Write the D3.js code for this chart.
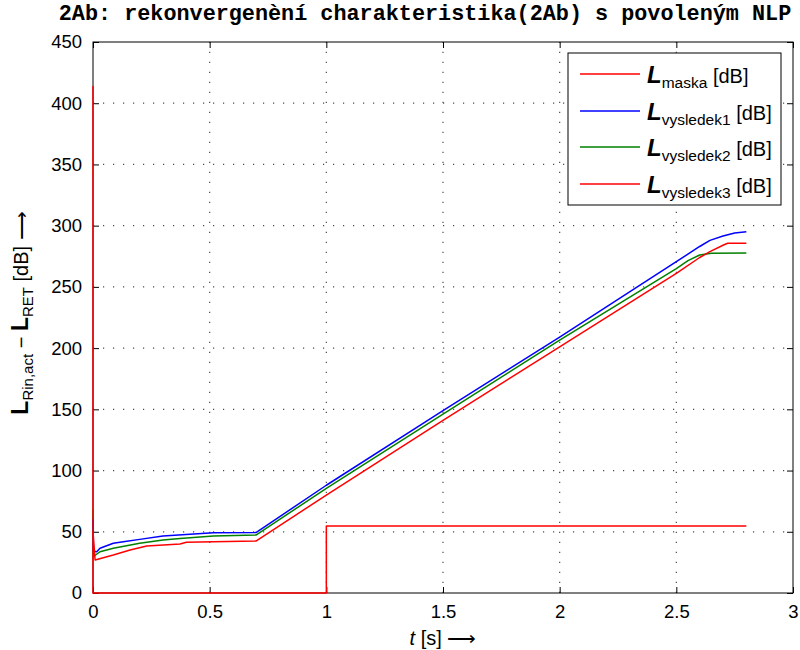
<!DOCTYPE html>
<html>
<head>
<meta charset="utf-8">
<script src="https://cdn.jsdelivr.net/npm/d3@7"></script>
<style>
  html, body { margin: 0; padding: 0; background: #fff; }
  svg { display: block; font-family: "Liberation Sans", Arial, Helvetica, sans-serif; }
</style>
</head>
<body>
<svg id="chart" width="800" height="650"></svg>
<script>
// values
const maskT = [0, 0, 1, 1, 2.8]
const maskV = [414, 0, 0, 54.7, 54.7]

const vys1T = [0, 0.002, 0.016, 0.03, 0.087, 0.13, 0.2, 0.3, 0.416, 0.516, 0.7, 1.0, 1.5, 2.0, 2.5, 2.6, 2.644, 2.7, 2.75, 2.8]
const vys1V = [60, 34, 33.7, 36.5, 40.6, 41.9, 43.8, 46.5, 47.9, 49.3, 49.5, 88, 149, 209, 270.6, 283, 288, 291.5, 294, 295]

const vys2T = [0, 0.001, 0.03, 0.087, 0.2, 0.3, 0.373, 0.516, 0.7, 1.0, 1.5, 2.0, 2.5, 2.55, 2.6, 2.65, 2.8]
const vys2V = [68, 29.6, 33.7, 36.5, 40.6, 43.3, 44.6, 46.5, 47.4, 85.5, 146, 206.6, 265, 271.5, 276, 277.5, 277.7]

const vys3T = [0, 0.009, 0.087, 0.159, 0.23, 0.373, 0.4, 0.516, 0.7, 1.0, 1.5, 2.0, 2.5, 2.6, 2.644, 2.7, 2.72, 2.8]
const vys3V = [50, 27, 31, 35.1, 38.4, 40, 41.4, 41.9, 42.5, 80, 141, 201, 261, 274, 278.8, 284, 285.6, 285.6]

const xTicks = [0, 0.5, 1, 1.5, 2, 2.5, 3]
const yTicks = [0, 50, 100, 150, 200, 250, 300, 350, 400, 450]

const seriesNames = ["maska", "vysledek1", "vysledek2", "vysledek3"]
const seriesColors = ["#ff0000", "#0000ff", "#008000", "#ff0000"]

const titleText = "2Ab: rekonvergenèní charakteristika(2Ab) s povoleným NLP"

const series = [
  {name: seriesNames[0], color: seriesColors[0], pts: maskT.map((t, i) => ({t, v: maskV[i]}))},
  {name: seriesNames[1], color: seriesColors[1], pts: vys1T.map((t, i) => ({t, v: vys1V[i]}))},
  {name: seriesNames[2], color: seriesColors[2], pts: vys2T.map((t, i) => ({t, v: vys2V[i]}))},
  {name: seriesNames[3], color: seriesColors[3], pts: vys3T.map((t, i) => ({t, v: vys3V[i]}))},
]

const m = {top: 42, right: 7, bottom: 57, left: 93}
const width = 800
const height = 650
const iw = width - m.left - m.right
const ih = height - m.top - m.bottom

const svg = d3.select("#chart")
const root = svg.append("g").attr("transform", `translate(${m.left},${m.top})`)

const x = d3.scaleLinear().domain([0, 3]).range([0, iw])
const y = d3.scaleLinear().domain([0, 450]).range([ih, 0])

// dotted grid
const grid = root.append("g").attr("stroke", "#000").attr("stroke-width", 1.2).attr("stroke-dasharray", "1.2,8.8").attr("opacity", 0.7)
xTicks.slice(1, -1).forEach((t) => {
  grid.append("line").attr("x1", x(t)).attr("x2", x(t)).attr("y1", ih).attr("y2", 0)
})
yTicks.slice(1, -1).forEach((t) => {
  grid.append("line").attr("x1", 0).attr("x2", iw).attr("y1", y(t)).attr("y2", y(t))
})

// axes: ticks inside on all four sides
const tickLen = 6
const axB = root.append("g").attr("transform", `translate(0,${ih})`)
  .call(d3.axisBottom(x).tickValues(xTicks).tickSize(-tickLen).tickPadding(12).tickFormat(d3.format("~g")))
const axT = root.append("g")
  .call(d3.axisTop(x).tickValues(xTicks).tickSize(-tickLen).tickFormat(""))
const axL = root.append("g")
  .call(d3.axisLeft(y).tickValues(yTicks).tickSize(-tickLen).tickPadding(11).tickFormat(d3.format("~g")))
const axR = root.append("g").attr("transform", `translate(${iw},0)`)
  .call(d3.axisRight(y).tickValues(yTicks).tickSize(-tickLen).tickFormat(""))

;[axB, axT, axL, axR].forEach((a) => {
  a.select(".domain").remove()
  a.selectAll("line").attr("stroke", "#000").attr("stroke-width", 1)
  a.selectAll("text").attr("fill", "#000").attr("font-size", 18.5)
    .attr("font-family", "'Liberation Sans', Arial, Helvetica, sans-serif")
})

root.append("rect")
  .attr("x", 0).attr("y", 0).attr("width", iw).attr("height", ih)
  .attr("fill", "none").attr("stroke", "#000").attr("stroke-width", 1)

// data lines (drawn over the frame, as in the reference)
const ln = d3.line().x((d) => x(d.t)).y((d) => y(d.v))
const lines = root.append("g")
;[2, 1, 3, 0].forEach((i) => {
  lines.append("path")
    .datum(series[i].pts)
    .attr("fill", "none")
    .attr("stroke", series[i].color)
    .attr("stroke-width", 1.5)
    .attr("stroke-linejoin", "round")
    .attr("d", ln)
})

// legend
const lg = root.append("g").attr("transform", `translate(${568 - m.left},${53 - m.top})`)
lg.append("rect").attr("x", 0).attr("y", 0).attr("width", 213).attr("height", 152)
  .attr("fill", "#fff").attr("stroke", "#000").attr("stroke-width", 1)
const rowY = [21, 58, 94, 131]
series.forEach((s, i) => {
  const ry = rowY[i]
  lg.append("line").attr("x1", 12).attr("x2", 72).attr("y1", ry).attr("y2", ry)
    .attr("stroke", s.color).attr("stroke-width", 1.5)
  const tx = lg.append("text").attr("x", 79).attr("y", ry + 8.5).attr("fill", "#000").attr("font-size", 20)
  tx.append("tspan").attr("font-weight", "bold").attr("font-style", "italic").attr("font-size", 24).text("L")
  tx.append("tspan").attr("font-size", 15.5).attr("dy", 5.5).text(s.name)
  tx.append("tspan").attr("dy", -5.5).text(i === 0 ? " [dB]" : "  [dB]")
})

// title
svg.append("text")
  .attr("x", 425).attr("y", 20)
  .attr("text-anchor", "middle")
  .attr("font-family", "'Courier New', 'Liberation Mono', Courier, monospace")
  .attr("font-weight", "bold")
  .attr("font-size", 21.8)
  .attr("fill", "#000")
  .text(titleText)

// x label
const xl = svg.append("text")
  .attr("x", m.left + iw / 2).attr("y", 645)
  .attr("text-anchor", "middle").attr("font-size", 20).attr("fill", "#000")
xl.append("tspan").attr("font-style", "italic").text("t")
xl.append("tspan").text(" [s] ⟶")

// y label
const yl = svg.append("text")
  .attr("transform", "translate(28,313) rotate(-90)")
  .attr("text-anchor", "middle").attr("font-size", 20).attr("fill", "#000")
yl.append("tspan").attr("font-weight", "bold").attr("font-size", 23).text("L")
yl.append("tspan").attr("font-size", 15).attr("dy", 5).text("Rin,act")
yl.append("tspan").attr("dy", -5).text(" − ")
yl.append("tspan").attr("font-weight", "bold").attr("font-size", 23).text("L")
yl.append("tspan").attr("font-size", 15).attr("dy", 5).text("RET")
yl.append("tspan").attr("dy", -5).text(" [dB] ⟶")
</script>
</body>
</html>
